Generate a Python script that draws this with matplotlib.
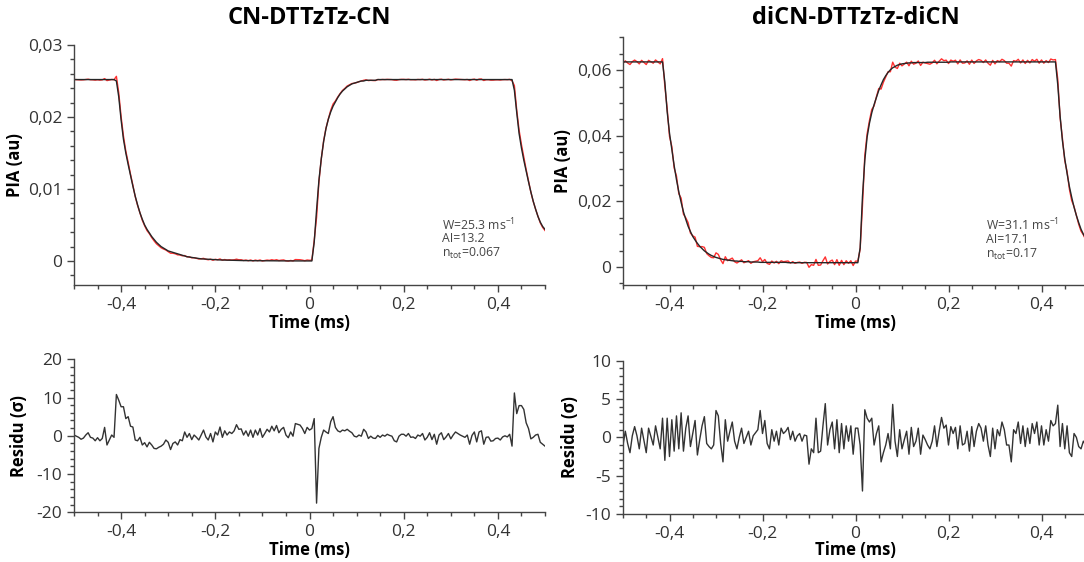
import numpy as np
import matplotlib
matplotlib.use("Agg")
import matplotlib.pyplot as plt
from matplotlib.ticker import MultipleLocator, FuncFormatter

# ---------------------------------------------------------------- data
# sample times (ms), one sample every 5 us
time_ms = np.linspace(-0.5, 0.5, 201)

# fitted PIA modulation curves (au)
fit_cn = [
    0.0252, 0.0252, 0.0252, 0.0252, 0.0252, 0.0252, 0.0252, 0.0252, 0.0252, 0.0252,
    0.0252, 0.0252, 0.0252, 0.0252, 0.0252, 0.0252, 0.0252, 0.0252, 0.0250, 0.0228,
    0.0196, 0.0169, 0.0150, 0.0134, 0.0119, 0.0104, 0.0090, 0.0078, 0.0067, 0.0058,
    0.0050, 0.0044, 0.0039, 0.0034, 0.0030, 0.0026, 0.0023, 0.0020, 0.0018, 0.0016,
    0.0014, 0.0013, 0.0012, 0.0011, 0.0010, 0.0009, 0.0008, 0.0007, 0.0006, 0.00055,
    0.0005, 0.00045, 0.0004, 0.00035, 0.0003, 0.00028, 0.00026, 0.00024, 0.00022, 0.0002,
    0.00018, 0.00016, 0.00015, 0.00014, 0.00013, 0.00012, 0.00011, 0.0001, 0.00009, 0.00008,
    0.00007, 0.00007, 0.00006, 0.00006, 0.00005, 0.00005, 0.00004, 0.00004, 0.00004, 0.00003,
    0.00003, 0.00003, 0.00003, 0.00003, 0.00003, 0.00003, 0.00002, 0.00002, 0.00002, 0.00002,
    0.00002, 0.00002, 0.00002, 0.00002, 0.00001, 0.00001, 0.00001, 0.00001, 0.00001, 0.00001,
    0.00001, 0.00001, 0.0026, 0.0071, 0.0112, 0.0142, 0.0166, 0.0184, 0.0197, 0.0207,
    0.0215, 0.0221, 0.0227, 0.0232, 0.0236, 0.0239, 0.0242, 0.0244, 0.0246, 0.0247,
    0.0248, 0.0249, 0.0250, 0.0250, 0.0251, 0.0251, 0.0251, 0.0251, 0.0251, 0.0252,
    0.0252, 0.0252, 0.0252, 0.0252, 0.0252, 0.0252, 0.0252, 0.0252, 0.0252, 0.0252,
    0.0252, 0.0252, 0.0252, 0.0252, 0.0252, 0.0252, 0.0252, 0.0252, 0.0252, 0.0252,
    0.0252, 0.0252, 0.0252, 0.0252, 0.0252, 0.0252, 0.0252, 0.0252, 0.0252, 0.0252,
    0.0252, 0.0252, 0.0252, 0.0252, 0.0252, 0.0252, 0.0252, 0.0252, 0.0252, 0.0252,
    0.0252, 0.0252, 0.0252, 0.0252, 0.0252, 0.0252, 0.0252, 0.0252, 0.0252, 0.0252,
    0.0252, 0.0252, 0.0252, 0.0252, 0.0252, 0.0252, 0.0252, 0.0237, 0.0206, 0.0177,
    0.0157, 0.0140, 0.0125, 0.0110, 0.0096, 0.0083, 0.0072, 0.0062, 0.0054, 0.0048,
    0.0044,
]

fit_dicn = [
    0.0625, 0.0625, 0.0625, 0.0625, 0.0625, 0.0625, 0.0625, 0.0625, 0.0625, 0.0625,
    0.0625, 0.0625, 0.0625, 0.0625, 0.0625, 0.0625, 0.0625, 0.0625, 0.0563, 0.0473,
    0.0408, 0.0358, 0.0309, 0.0266, 0.0229, 0.0197, 0.0168, 0.0145, 0.0124, 0.0108,
    0.0093, 0.0082, 0.0072, 0.0063, 0.0056, 0.0049, 0.0044, 0.0039, 0.0035, 0.0032,
    0.0029, 0.0027, 0.0025, 0.0023, 0.0022, 0.0021, 0.0020, 0.0019, 0.0018, 0.0018,
    0.0017, 0.0017, 0.0016, 0.0016, 0.0016, 0.0015, 0.0015, 0.0015, 0.0015, 0.0014,
    0.0014, 0.0014, 0.0014, 0.0014, 0.0014, 0.0014, 0.0014, 0.0014, 0.0014, 0.0014,
    0.0014, 0.0013, 0.0013, 0.0013, 0.0013, 0.0013, 0.0013, 0.0013, 0.0013, 0.0013,
    0.0013, 0.0013, 0.0013, 0.0013, 0.0013, 0.0013, 0.0013, 0.0013, 0.0013, 0.0013,
    0.0013, 0.0013, 0.0013, 0.0013, 0.0013, 0.0013, 0.0013, 0.0013, 0.0013, 0.0013,
    0.0013, 0.0013, 0.0058, 0.0215, 0.0325, 0.0396, 0.0438, 0.0470, 0.0495, 0.0517,
    0.0538, 0.0555, 0.0571, 0.0583, 0.0593, 0.0601, 0.0607, 0.0611, 0.0615, 0.0617,
    0.0619, 0.0620, 0.0621, 0.0622, 0.0622, 0.0623, 0.0623, 0.0623, 0.0623, 0.0623,
    0.0623, 0.0624, 0.0624, 0.0624, 0.0624, 0.0624, 0.0624, 0.0624, 0.0624, 0.0624,
    0.0624, 0.0625, 0.0625, 0.0625, 0.0625, 0.0625, 0.0625, 0.0625, 0.0625, 0.0625,
    0.0625, 0.0625, 0.0625, 0.0625, 0.0625, 0.0625, 0.0625, 0.0625, 0.0625, 0.0625,
    0.0625, 0.0625, 0.0625, 0.0625, 0.0625, 0.0625, 0.0625, 0.0625, 0.0625, 0.0625,
    0.0625, 0.0625, 0.0625, 0.0625, 0.0625, 0.0625, 0.0625, 0.0625, 0.0625, 0.0625,
    0.0625, 0.0625, 0.0625, 0.0625, 0.0625, 0.0625, 0.0625, 0.0555, 0.0460, 0.0385,
    0.0330, 0.0285, 0.0245, 0.0212, 0.0182, 0.0157, 0.0135, 0.0115, 0.0100, 0.0087,
    0.0076,
]

# normalised residuals (data - fit) / sigma
resid_cn = [
    0.2, -0.1, -0.4, -0.9, -0.6, 0.2, 0.8, -0.4, -0.6, -1.3,
    -0.5, -1.3, -0.7, 2.2, -2.4, -1.1, 0.2, -0.4, 10.8, 9.3,
    7.6, 7.6, 4.5, 5.0, 2.5, 2.3, -1.1, -1.3, -0.4, -2.4,
    -1.8, -2.9, -1.7, -2.4, -3.3, -3.4, -3.0, -2.7, -2.2, -1.1,
    -1.7, -3.6, -2.0, -1.6, -2.4, -1.0, -1.3, 1.0, -0.4, 0.6,
    -1.0, 0.2, -0.4, -1.1, 0.2, 1.5, -0.3, -1.1, 0.6, -1.6,
    1.0, 0.2, 2.3, -0.4, 1.3, 0.2, 1.0, 0.6, 1.3, 2.9,
    1.7, 1.8, 0.2, 1.3, -0.1, 1.5, -0.4, 1.5, 0.2, 1.9,
    -0.4, 0.6, 1.7, 1.0, 2.5, 1.3, 2.7, 0.8, 1.7, 2.2,
    0.2, -0.5, 1.0, -0.1, 3.2, 3.0, 2.8, 1.9, 0.6, 2.2,
    1.5, 1.9, 4.5, -17.6, -3.3, -0.4, 1.5, 1.0, 0.6, 3.7,
    5.0, 2.2, 1.3, 1.0, 1.5, 1.3, 1.7, 1.2, 0.8, -0.1,
    -0.3, 0.2, -0.1, 1.7, 1.0, -0.7, -0.1, -0.6, -0.7, 0.1,
    -0.4, 0.2, -0.1, 0.4, 0.1, -0.1, -1.3, -1.6, -0.1, 0.4,
    0.4, -0.1, 0.6, -0.4, -0.3, -0.7, 0.2, -0.1, 0.6, -1.1,
    -0.4, 0.8, -1.0, 0.4, -2.2, 0.2, 0.8, -1.0, -0.3, 0.6,
    -0.8, 0.2, 1.0, 0.6, 0.2, -0.1, -0.4, 0.2, -2.2, 0.1,
    1.0, -1.6, 1.0, 1.3, -2.2, -0.4, -0.3, -1.4, -1.3, -0.7,
    -0.6, -1.1, -0.3, 0.0, -0.3, 0.4, -2.7, 11.2, 5.8, 7.9,
    7.9, 6.9, 3.4, 1.9, -0.8, -0.4, 0.2, 0.4, -1.7, -2.2,
    -2.7,
]

resid_dicn = [
    -1.0, 0.8, -0.8, -2.0, 0.2, 1.4, 0.2, -1.5, 1.2, -0.4,
    -2.0, 1.2, 0.1, -1.0, 1.5, 0.0, -1.5, 2.5, -3.0, 2.5,
    -2.5, 2.3, -1.8, 2.8, -1.5, 3.2, -1.8, 1.2, 2.8, -1.2,
    0.5, 2.2, -2.3, -0.3, 1.5, 2.7, -0.8, -1.2, -1.5, -1.0,
    3.5, 2.8, -0.8, -3.2, 2.3, -0.5, 0.8, 2.0, -0.5, -1.5,
    0.0, 1.2, -0.8, 0.0, 0.8, -1.0, 0.2, 0.6, 1.0, 3.5,
    0.5, 2.2, -0.8, -1.5, 1.0, -0.5, 0.8, -1.0, 1.2, 0.5,
    0.8, 1.3, -0.3, 0.8, -0.5, 0.2, 0.5, -0.5, 0.3, 0.2,
    -3.5, -1.5, -2.0, 2.5, -2.0, -1.8, 1.5, 4.4, -1.0, 1.0,
    2.0, -1.5, 2.3, -2.0, 1.8, -1.5, 1.5, -0.5, 1.5, -2.2,
    1.2, 1.2, -1.0, -7.0, 3.6, 2.5, 2.0, 2.5, -1.0, 0.5,
    1.5, -3.2, -2.0, -1.0, 0.5, -1.5, 4.3, -0.5, -2.5, 1.0,
    -1.5, -0.3, 0.8, -2.2, 1.3, -1.2, -0.5, 1.2, -2.2, 0.3,
    -0.3, -1.0, -1.5, -0.5, 1.5, -1.2, 0.8, 2.6, 1.2, 1.6,
    -1.0, 1.4, 0.5, 1.3, -1.5, 1.5, -1.0, -0.8, 0.8, -1.8,
    1.4, -1.2, 0.8, 1.8, 1.2, -0.5, 1.5, -1.0, -2.5, 1.2,
    -1.5, 1.0, 0.2, 2.0, 1.0, -1.0, -1.0, -3.2, 1.0, 0.5,
    2.0, -0.8, 1.5, -1.2, 1.2, -0.8, 1.8, 0.5, 2.0, -1.0,
    1.5, -1.0, 1.0, -0.5, 2.2, 1.5, 1.8, 4.2, -1.2, 1.8,
    -1.5, 1.5, -2.0, -2.5, 0.5, 0.0, -1.2, -1.5, -0.5, -1.0,
    -0.5,
]

# noise level of each measurement (au)
sigma_cn = 0.00006
sigma_dicn = 0.0004

titles = ["CN-DTTzTz-CN", "diCN-DTTzTz-diCN"]
rate_w = ["25.3", "31.1"]
ai_value = ["13.2", "17.1"]
n_tot = ["0.067", "0.17"]

# measured signal reconstructed from fit and residual
data_cn = np.array(fit_cn) + sigma_cn * np.array(resid_cn)
data_dicn = np.array(fit_dicn) + sigma_dicn * np.array(resid_dicn)

# ---------------------------------------------------------------- style
plt.rcParams["font.family"] = ["Open Sans", "DejaVu Sans"]
plt.rcParams["mathtext.fontset"] = "custom"
plt.rcParams["mathtext.rm"] = "Open Sans"
plt.rcParams["mathtext.default"] = "regular"
plt.rcParams["axes.unicode_minus"] = False

AX_COL = "#444444"
TICK_TXT = "#333333"
FIT_COL = "#262626"
DATA_COL = "#ff3030"


def comma(v, pos):
    v = round(v, 6)
    if v == 0:
        return "0"
    return f"{v:g}".replace(".", ",")


def style(ax, ymaj, ymin, ylim):
    ax.set_xlim(-0.5, 0.5)
    ax.set_ylim(*ylim)
    for s in ("top", "right"):
        ax.spines[s].set_visible(False)
    for s in ("left", "bottom"):
        ax.spines[s].set_color(AX_COL)
        ax.spines[s].set_linewidth(1.0)
    ax.xaxis.set_major_locator(MultipleLocator(0.2))
    ax.xaxis.set_minor_locator(MultipleLocator(0.05))
    ax.yaxis.set_major_locator(MultipleLocator(ymaj))
    ax.yaxis.set_minor_locator(MultipleLocator(ymin))
    ax.xaxis.set_major_formatter(FuncFormatter(comma))
    ax.yaxis.set_major_formatter(FuncFormatter(comma))
    ax.tick_params(which="both", direction="out", color=AX_COL, width=1.0,
                   labelsize=12.5, labelcolor=TICK_TXT)
    ax.tick_params(which="major", length=5, pad=3.5)
    ax.tick_params(which="minor", length=3)
    ax.set_facecolor("none")


fig = plt.figure(figsize=(10.84, 5.62), dpi=100)
W, H = 1084.0, 562.0


def box(x0, y0, x1, y1):
    return [x0 / W, 1 - y1 / H, (x1 - x0) / W, (y1 - y0) / H]


ax_cn = fig.add_axes(box(74, 45, 545, 285))
ax_di = fig.add_axes(box(623, 37.3, 1088, 285))
ax_rcn = fig.add_axes(box(74, 359.3, 545, 512.3))
ax_rdi = fig.add_axes(box(623, 360.7, 1088, 514))

style(ax_cn, 0.01, 0.002, (-0.00333, 0.03))
style(ax_di, 0.02, 0.005, (-0.0055, 0.07))
style(ax_rcn, 10, 2, (-20, 20))
style(ax_rdi, 5, 1, (-10, 10))

# PIA traces: measurement in red, fit in black on top
ax_cn.plot(time_ms, data_cn, color=DATA_COL, lw=1.0)
ax_cn.plot(time_ms, fit_cn, color=FIT_COL, lw=1.0)
ax_di.plot(time_ms, data_dicn, color=DATA_COL, lw=1.0)
ax_di.plot(time_ms, fit_dicn, color=FIT_COL, lw=1.0)

# residuals
ax_rcn.plot(time_ms, resid_cn, color="#333333", lw=1.0)
ax_rdi.plot(time_ms, resid_dicn, color="#333333", lw=1.0)

label_kw = dict(fontsize=12, fontweight="bold", color="black")
for ax, ylab, yx, xy in [
    (ax_cn, "PIA (au)", -0.125, -0.158),
    (ax_di, "PIA (au)", -0.13, -0.153),
    (ax_rcn, "Residu (σ)", -0.117, -0.246),
    (ax_rdi, "Residu (σ)", -0.115, -0.235),
]:
    ax.set_ylabel(ylab, va="center", **label_kw)
    ax.yaxis.set_label_coords(yx, 0.5)
    ax.set_xlabel("Time (ms)", va="center", **label_kw)
    ax.xaxis.set_label_coords(0.5, xy)

# panel titles
for ax, title in zip((ax_cn, ax_di), titles):
    bb = ax.get_position()
    fig.text(bb.x0 + bb.width / 2, 1 - 18 / H, title, ha="center", va="center",
             fontsize=17, fontweight="bold", color="black")

# fit parameters
for ax, w, a, n, ys in [
    (ax_cn, rate_w[0], ai_value[0], n_tot[0], (0.25, 0.192, 0.133)),
    (ax_di, rate_w[1], ai_value[1], n_tot[1], (0.242, 0.182, 0.125)),
]:
    kw = dict(transform=ax.transAxes, fontsize=8.8, color="#444444",
              ha="left", va="center")
    ax.text(0.781, ys[0], f"W={w} ms$^{{-1}}$", **kw)
    ax.text(0.781, ys[1], f"AI={a}", **kw)
    ax.text(0.781, ys[2], f"n$_{{tot}}$={n}", **kw)

fig.savefig("out.png", dpi=100)
